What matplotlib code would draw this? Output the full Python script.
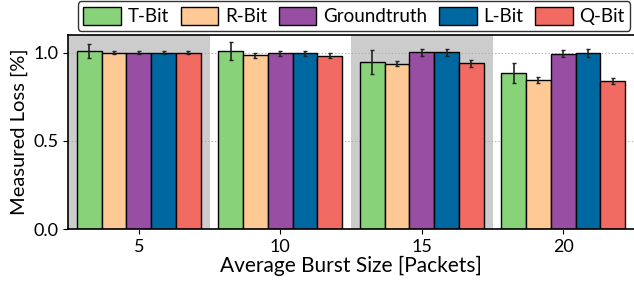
import numpy as np
import matplotlib
matplotlib.use("Agg")
from matplotlib import pyplot as plt

# Data
burst_sizes = ["5", "10", "15", "20"]
series = ["T-Bit", "R-Bit", "Groundtruth", "L-Bit", "Q-Bit"]
t_bit = [1.008, 1.008, 0.947, 0.885]
r_bit = [1.000, 0.985, 0.938, 0.845]
groundtruth = [1.000, 0.997, 1.002, 0.994]
l_bit = [1.000, 0.997, 1.002, 0.998]
q_bit = [1.000, 0.983, 0.941, 0.839]
t_err = [0.040, 0.050, 0.066, 0.057]
r_err = [0.010, 0.015, 0.015, 0.015]
gt_err = [0.010, 0.015, 0.020, 0.020]
l_err = [0.010, 0.015, 0.020, 0.020]
q_err = [0.010, 0.015, 0.020, 0.015]

colors = ["#88d27a", "#fec995", "#984ea3", "#0068a1", "#f26b63"]

plt.rcParams['font.family'] = ['Lato', 'DejaVu Sans']

fig = plt.figure(figsize=(6.34, 2.88), dpi=100)
ax = fig.add_axes([68 / 634, 59 / 288, 566 / 634, 194 / 288])

values = [t_bit, r_bit, groundtruth, l_bit, q_bit]
errors = [t_err, r_err, gt_err, l_err, q_err]
x = np.arange(len(burst_sizes))
width = 0.175

# shaded background for alternating groups
for i in range(0, len(burst_sizes), 2):
    ax.axvspan(i - 0.5, i + 0.5, color="#cccccc", zorder=0, lw=0)

ax.yaxis.grid(True, linestyle=(0, (1, 2)), color="#aaaaaa", linewidth=0.8, zorder=1)

for k, (name, vals, errs, c) in enumerate(zip(series, values, errors, colors)):
    offs = (k - 2) * width
    ax.bar(x + offs, vals, width, color=c, edgecolor="black", linewidth=1.0,
           label=name, zorder=2,
           yerr=errs, error_kw=dict(ecolor="#222222", elinewidth=1.2, capsize=1.5, capthick=1.0, zorder=3))

ax.set_xlim(-0.5, 3.5)
ax.set_ylim(0, 1.1)
ax.set_yticks([0.0, 0.5, 1.0])
ax.set_xticks(x)
ax.set_xticklabels(burst_sizes)
ax.tick_params(labelsize=13)
ax.set_ylabel("Measured Loss [%]", fontsize=14.5, labelpad=4)
ax.set_xlabel("Average Burst Size [Packets]", fontsize=15, labelpad=1)
ax.spines["right"].set_visible(False)
for s in ["left", "bottom", "top"]:
    ax.spines[s].set_linewidth(1.2)

leg = fig.legend(loc="upper center", bbox_to_anchor=(354 / 634, 0.995), ncol=5,
                 fontsize=13.5, frameon=True, fancybox=True, edgecolor="black",
                 handlelength=2.0, handleheight=1.1, handletextpad=0.35,
                 columnspacing=0.65, borderpad=0.3, borderaxespad=0.0)
leg.get_frame().set_linewidth(1.0)

fig.savefig("out.png", dpi=100)
